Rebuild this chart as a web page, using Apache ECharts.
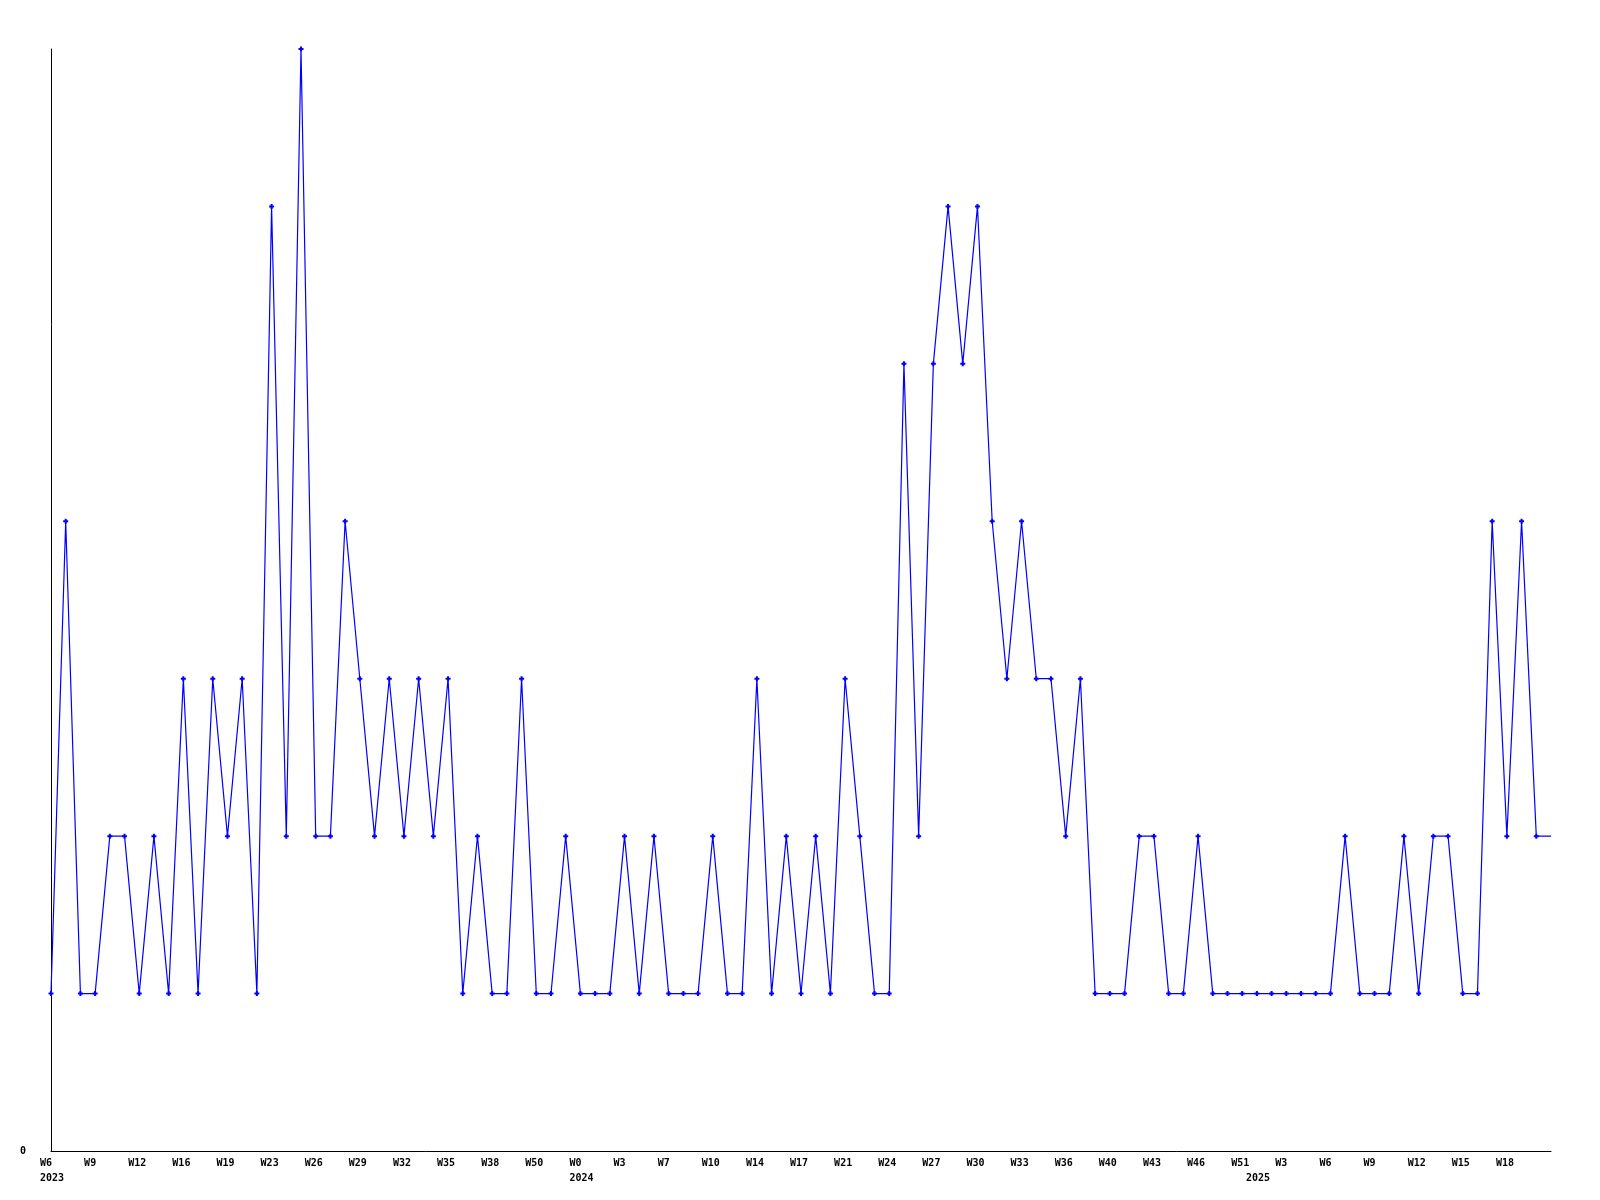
<!DOCTYPE html>
<html>
<head>
<meta charset="utf-8">
<script src="https://cdn.jsdelivr.net/npm/echarts@6/dist/echarts.min.js"></script>
<style>
html,body{margin:0;padding:0;background:#fff;}
#chart{width:1600px;height:1200px;}
</style>
</head>
<body>
<div id="chart"></div>
<script>
// Week labels (one per point)
const weeks = [
  'W6','W7','W8','W9','W10','W11','W12','W13','W15','W16','W17','W18',
  'W19','W20','W22','W23','W24','W25','W26','W27','W28','W29','W30','W31',
  'W32','W33','W34','W35','W36','W37','W38','W39','W41','W50','W51','W52',
  'W0','W1','W2','W3','W5','W6','W7','W8','W9','W10','W12','W13',
  'W14','W15','W16','W17','W19','W20','W21','W22','W23','W24','W25','W26',
  'W27','W28','W29','W30','W31','W32','W33','W34','W35','W36','W38','W39',
  'W40','W41','W42','W43','W44','W45','W46','W48','W49','W51',
  'W1','W2','W3','W4','W5','W6','W7','W8','W9','W10','W11',
  'W12','W13','W14','W15','W16','W17','W18','W19','W20'
];
// Year of each point
const years = [].concat(
  Array(36).fill('2023'),
  Array(46).fill('2024'),
  Array(20).fill('2025')
);
// Series values
const values = [
  1,4,1,1,2,2,1,2,1,3,1,3,
  2,3,1,6,2,7,2,2,4,3,2,3,
  2,3,2,3,1,2,1,1,3,1,1,2,
  1,1,1,2,1,2,1,1,1,2,1,1,
  3,1,2,1,2,1,3,2,1,1,5,2,
  5,6,5,6,4,3,4,3,3,2,3,1,
  1,1,2,2,1,1,2,1,1,1,
  1,1,1,1,1,1,2,1,1,1,2,
  1,2,2,1,1,4,2,4,2
];
const yTicks = [0];

const n = values.length;
const cats = weeks.map((w, i) => years[i] + '-' + w).concat(['end']);
const seriesData = values.map(v => v).concat([{ value: values[n - 1], symbol: 'none' }]);

const font = '"DejaVu Sans Mono", monospace';
const labelRich = { w: { width: 22, align: 'left', fontFamily: font, fontWeight: 'bold', fontSize: 10, color: '#000', lineHeight: 11 } };
const chart = echarts.init(document.getElementById('chart'));
chart.setOption({
  animation: false,
  backgroundColor: '#ffffff',
  grid: { left: 51, right: 49, top: 49, bottom: 49, containLabel: false },
  xAxis: [
    {
      type: 'category',
      data: cats,
      boundaryGap: false,
      position: 'bottom',
      axisLine: { show: true, lineStyle: { color: '#000', width: 1 } },
      axisTick: { show: false },
      splitLine: { show: false },
      axisLabel: {
        interval: 2,
        margin: 7,
        formatter: (v, i) => i < n ? '{w|' + weeks[i] + '}' : '',
        rich: labelRich
      }
    },
    {
      type: 'category',
      data: cats,
      boundaryGap: false,
      position: 'bottom',
      axisLine: { show: false },
      axisTick: { show: false },
      splitLine: { show: false },
      axisLabel: {
        interval: 0,
        margin: 22,
        formatter: (v, i) => (i < n && (i === 0 || years[i] !== years[i - 1])) ? '{w|' + years[i] + '}' : '',
        rich: labelRich
      }
    }
  ],
  yAxis: {
    type: 'value',
    min: 0,
    max: 7,
    interval: 7,
    axisLine: { show: true, lineStyle: { color: '#000', width: 1 } },
    axisTick: { show: false },
    splitLine: { show: false },
    axisLabel: {
      margin: 25,
      fontFamily: font,
      fontWeight: 'bold',
      fontSize: 10,
      color: '#000',
      formatter: v => yTicks.includes(v) ? String(v) : ''
    }
  },
  series: [{
    type: 'line',
    data: seriesData,
    xAxisIndex: 0,
    symbol: 'path://M1.5,0H3.5V1.5H5V3.5H3.5V5H1.5V3.5H0V1.5H1.5Z',
    symbolSize: 5,
    showAllSymbol: true,
    lineStyle: { color: '#0000ff', width: 1.2 },
    itemStyle: { color: '#0000ff' },
    emphasis: { disabled: true }
  }]
});
</script>
</body>
</html>
